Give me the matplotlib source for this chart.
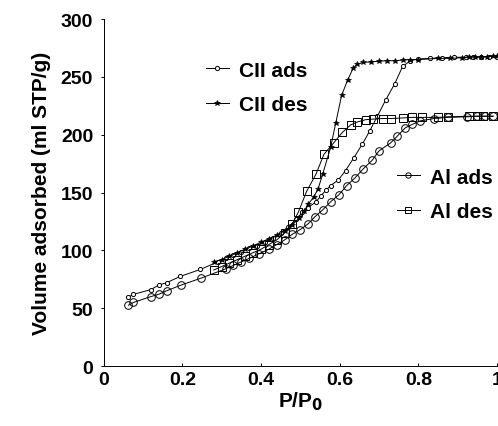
import matplotlib
matplotlib.use("Agg")
import matplotlib.pyplot as plt

plt.rcParams['font.family'] = ['Liberation Sans', 'DejaVu Sans']
plt.rcParams['font.weight'] = 'bold'

# CII adsorption branch
cii_ads_x = [0.063, 0.076, 0.12, 0.14, 0.16, 0.195, 0.246, 0.29, 0.31, 0.33, 0.35, 0.37,
             0.39, 0.41, 0.43, 0.45, 0.47, 0.49, 0.505, 0.52, 0.54, 0.552, 0.565, 0.577,
             0.597, 0.615, 0.636, 0.658, 0.676, 0.696, 0.717, 0.74, 0.76, 0.78, 0.80,
             0.83, 0.86, 0.89, 0.92, 0.94, 0.96, 0.98, 1.0]
cii_ads_y = [59.5, 62, 66, 70, 72, 77.5, 83.5, 90, 93, 96, 99, 102,
             104, 107, 111, 115, 120, 127, 133, 137, 142, 147, 152, 156,
             161, 169, 180, 192, 203, 216, 230, 244, 259, 264, 265.5,
             266, 266.5, 267, 267, 267, 267, 267.5, 267.5]

# CII desorption branch
cii_des_x = [1.0, 0.99, 0.975, 0.96, 0.945, 0.93, 0.91, 0.88, 0.85, 0.80, 0.78, 0.76,
             0.74, 0.72, 0.70, 0.68, 0.66, 0.645, 0.635, 0.62, 0.605, 0.59, 0.577,
             0.557, 0.545, 0.534, 0.52, 0.51, 0.497, 0.48, 0.46, 0.44, 0.42, 0.40,
             0.38, 0.36, 0.34, 0.32, 0.30, 0.28]
cii_des_y = [268, 268, 267.5, 267.5, 267, 267, 266.5, 266, 266, 265, 265, 264.5,
             264, 264, 263.5, 263, 262.5, 261, 258, 247, 234, 210, 189,
             166, 153, 146, 140, 134, 128, 122, 117, 113, 110, 107,
             104, 101, 98, 95, 92, 90]

# Al adsorption branch
al_ads_x = [0.063, 0.076, 0.12, 0.14, 0.16, 0.197, 0.248, 0.31, 0.33, 0.35, 0.37, 0.395,
            0.42, 0.44, 0.46, 0.48, 0.50, 0.52, 0.537, 0.557, 0.577, 0.598, 0.618, 0.64,
            0.66, 0.683, 0.70, 0.73, 0.747, 0.767, 0.785, 0.805, 0.84, 0.876, 0.925,
            0.95, 0.97, 0.99]
al_ads_y = [52.5, 55, 60, 62, 65, 70, 76, 84, 87, 90, 93, 97,
            101, 105, 109, 114, 118, 123, 129, 135, 142, 148, 156, 163,
            170.5, 178, 186, 193, 199, 206, 209, 212, 214, 215, 215.5,
            216, 216, 216]

# Al desorption branch
al_des_x = [0.99, 0.965, 0.95, 0.93, 0.876, 0.85, 0.81, 0.785, 0.76, 0.73, 0.71, 0.686,
            0.666, 0.645, 0.628, 0.607, 0.585, 0.56, 0.54, 0.516, 0.495, 0.48, 0.46,
            0.44, 0.42, 0.40, 0.38, 0.36, 0.34, 0.32, 0.30, 0.28]
al_des_y = [216, 216, 216, 216, 215.5, 215, 215, 215, 214.5, 214, 214, 213.5,
            213, 211, 208.5, 202, 193, 183, 166, 151, 133, 123, 115,
            109, 105, 101, 98, 95, 92, 89, 86, 83]

fig = plt.figure(figsize=(4.98, 4.27), dpi=100)
ax = fig.add_axes([0.208, 0.1405, 0.79, 0.8125])

lw = 0.7
ax.plot(cii_ads_x, cii_ads_y, color='black', lw=lw, marker='o', ms=3,
        mfc='white', mec='black', mew=0.7, label='CII ads')
ax.plot(cii_des_x, cii_des_y, color='black', lw=lw, marker='*', ms=4,
        mfc='black', mec='black', mew=0.5, label='CII des')
ax.plot(al_ads_x, al_ads_y, color='black', lw=lw, marker='o', ms=5.5,
        mfc='none', mec='black', mew=0.7, label='Al ads')
ax.plot(al_des_x, al_des_y, color='black', lw=lw, marker='s', ms=5.8,
        mfc='none', mec='black', mew=0.7, label='Al des')

ax.set_xlim(0, 1)
ax.set_ylim(0, 300)
ax.set_xticks([0, 0.2, 0.4, 0.6, 0.8, 1])
ax.set_xticklabels(['0', '0.2', '0.4', '0.6', '0.8', '1'])
ax.set_yticks([0, 50, 100, 150, 200, 250, 300])
ax.spines['top'].set_visible(False)
ax.spines['right'].set_visible(False)
for s in ['left', 'bottom']:
    ax.spines[s].set_linewidth(0.7)
ax.tick_params(axis='y', direction='out', length=2.5, width=0.7, labelsize=14, pad=5)
ax.tick_params(axis='x', direction='in', length=2, width=0.7, labelsize=14, pad=3.5)
ax.set_xlabel('P/P$_\\mathbf{0}$', fontsize=15, fontweight='bold', labelpad=1)
ax.set_ylabel('Volume adsorbed (ml STP/g)', fontsize=15, fontweight='bold', labelpad=7)

h = ax.get_lines()
leg1 = ax.legend(handles=h[:2], loc='upper left', bbox_to_anchor=(0.26, 0.88),
                 frameon=False, fontsize=15, handlelength=1.1, handletextpad=0.5,
                 labelspacing=0.75, borderpad=0, borderaxespad=0)
ax.add_artist(leg1)
ax.legend(handles=h[2:], loc='upper left', bbox_to_anchor=(0.745, 0.572),
          frameon=False, fontsize=15, handlelength=1.1, handletextpad=0.5,
          labelspacing=0.75, borderpad=0, borderaxespad=0, markerscale=0.7)

fig.savefig('out.png', dpi=100)
